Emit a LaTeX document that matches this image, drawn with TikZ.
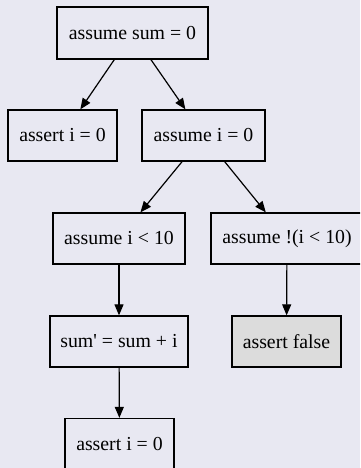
\documentclass[tikz,border=0pt]{standalone}
\usepackage{fontspec}
\setmainfont{Liberation Serif}
\newfontfamily\plainserif{Liberation Serif}
\usetikzlibrary{arrows.meta}
\definecolor{bgcol}{RGB}{232,232,242}
\definecolor{grayfill}{RGB}{220,220,220}
\begin{document}
\begin{tikzpicture}[x=1pt,y=-1pt,
  box/.style={draw=black,line width=1.3pt,rectangle,inner sep=0pt,
    minimum height=51pt,font=\plainserif\fontsize{19.8}{22}\selectfont,text=black},
  arr/.style={line width=1.2pt,-{Triangle[length=11pt,width=9pt]}}]
\useasboundingbox (0,0) rectangle (360,468);
\fill[bgcol] (0,0) rectangle (360,468);
\clip (0,0) rectangle (360,468);
\node[box,minimum width=151pt,minimum height=52pt] (n1) at (132.5,33) {assume sum = 0};
\node[box,minimum width=109pt] (n2) at (62.5,135.5) {assert i = 0};
\node[box,minimum width=123pt] (n3) at (203.5,135.5) {assume i = 0};
\node[box,minimum width=132pt] (n4) at (119,238.5) {assume i < 10};
\node[box,minimum width=152pt] (n5) at (287,238.5) {assume !(i < 10)};
\node[box,minimum width=138pt] (n6) at (119,341.5) {sum' = sum + i};
\node[box,minimum width=109pt,fill=grayfill] (n7) at (286.5,341.5) {assert false};
\node[box,minimum width=109pt] (n8) at (119.5,444) {assert i = 0};
\draw[arr] (n1) -- (n2);
\draw[arr] (n1) -- (n3);
\draw[arr] (n3) -- (n4);
\draw[arr] (n3) -- (n5);
\draw[arr] (n4) -- (n6);
\draw[arr] (n5) -- (n7);
\draw[arr] (n6) -- (n8);
\end{tikzpicture}
\end{document}
